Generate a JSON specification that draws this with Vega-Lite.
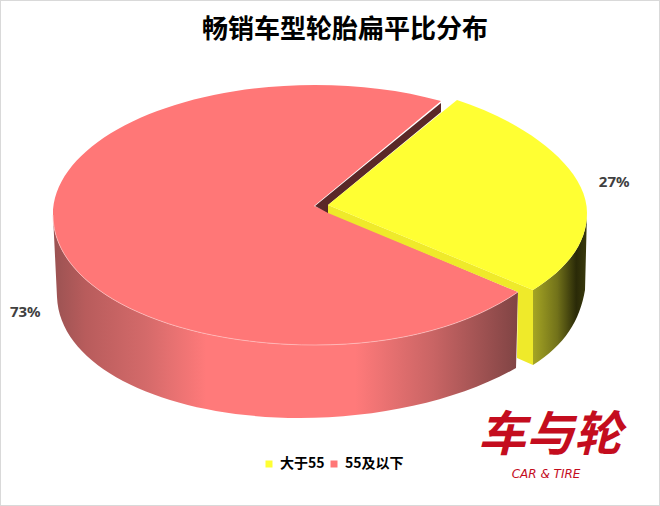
{
  "$schema": "https://vega.github.io/schema/vega-lite/v6.json",
  "width": 660,
  "height": 506,
  "padding": 0,
  "autosize": {"type": "none"},
  "background": "white",
  "view": {"stroke": "#d9d9d9", "strokeWidth": 2},
  "config": {"font": "Noto Sans CJK SC"},
  "title": {"text": "畅销车型轮胎扁平比分布", "font": "Noto Sans CJK SC", "fontSize": 26, "fontWeight": "bold", "color": "#000000", "anchor": "middle", "dx": 15, "offset": -43},
  "data": {"values": [
    {"类别": "大于55", "占比": 0.27},
    {"类别": "55及以下", "占比": 0.73}
  ]},
  "layer": [
    {
      "transform": [{"filter": "datum['类别'] === '55及以下'"}],
      "mark": {"type": "point", "filled": true, "opacity": 1, "size": 4, "strokeWidth": 0,
        "shape": "M -277 -38 L -273 44 C -270 117 -160 165 -30 165 C 50 165 130 147 186 115 L 188 39 C 140 72 70 92 -15 92 C -160 92 -277 37 -277 -38 Z",
        "color": {"gradient": "linear", "x1": 0, "x2": 1, "y1": 0, "y2": 0, "stops": [
          {"offset": 0, "color": "#9a5252"},
          {"offset": 0.07, "color": "#b85c5c"},
          {"offset": 0.2, "color": "#d46a6a"},
          {"offset": 0.33, "color": "#ff7a7a"},
          {"offset": 0.65, "color": "#ff7a7a"},
          {"offset": 0.82, "color": "#c86464"},
          {"offset": 1, "color": "#804444"}
        ]}
      },
      "encoding": {}
    },
    {
      "transform": [{"filter": "datum['类别'] === '55及以下'"}],
      "mark": {"type": "point", "filled": true, "opacity": 1, "size": 4, "strokeWidth": 0,
        "shape": "M 111 -152 C 70 -163 30 -168 -15 -168 C -160 -168 -277 -110 -277 -38 C -277 37 -160 92 -15 92 C 70 92 140 72 188 39 L -16 -47 Z"
      },
      "encoding": {
        "color": {"field": "类别", "type": "nominal",
          "scale": {"domain": ["大于55", "55及以下"], "range": ["#FFFF33", "#FF7777"]},
          "legend": {"title": null, "orient": "none", "legendX": 262, "legendY": 457, "direction": "horizontal", "symbolType": "square", "symbolSize": 49, "symbolStrokeWidth": 0, "labelFont": "Noto Sans CJK SC", "labelFontSize": 14, "labelFontWeight": "bold", "labelColor": "#000000", "columnPadding": 2, "labelOffset": 4}
        }
      }
    },
    {
      "transform": [{"filter": "datum['类别'] === '55及以下'"}],
      "mark": {"type": "point", "filled": false, "opacity": 0.8, "size": 4, "stroke": "#ffc8c8", "strokeWidth": 0.8,
        "shape": "M -277 -38 C -277 37 -160 92 -15 92 C 70 92 140 72 188 39"
      },
      "encoding": {}
    },
    {
      "transform": [{"filter": "datum['类别'] === '55及以下'"}],
      "mark": {"type": "point", "filled": true, "opacity": 1, "size": 4, "strokeWidth": 0, "color": "#5a2828",
        "shape": "M 111 -150 L 111 -141 L -2 -48 L -2 -40 L -15 -47 Z"
      },
      "encoding": {}
    },
    {
      "transform": [{"filter": "datum['类别'] === '大于55'"}],
      "mark": {"type": "point", "filled": true, "opacity": 1, "size": 4, "strokeWidth": 0,
        "shape": "M 203 37 C 235 17 257 -8 257 -40 L 255 37 C 250 67 235 92 203 112 Z",
        "color": {"gradient": "linear", "x1": 0, "x2": 1, "y1": 0, "y2": 0, "stops": [
          {"offset": 0, "color": "#a5a524"},
          {"offset": 0.45, "color": "#72721a"},
          {"offset": 0.8, "color": "#2a2a08"},
          {"offset": 1, "color": "#3a3a0c"}
        ]}
      },
      "encoding": {}
    },
    {
      "transform": [{"filter": "datum['类别'] === '大于55'"}],
      "mark": {"type": "point", "filled": true, "opacity": 1, "size": 4, "strokeWidth": 0, "color": "#EFEA2A",
        "shape": "M -2 -48 L 203 37 L 203 112 L 187 105 L 188 39 L -2 -40 Z"
      },
      "encoding": {}
    },
    {
      "transform": [{"filter": "datum['类别'] === '大于55'"}],
      "mark": {"type": "point", "filled": true, "opacity": 1, "size": 4, "strokeWidth": 0,
        "shape": "M 127 -153 C 190 -133 257 -88 257 -40 C 257 -8 235 17 203 37 L -2 -48 Z"
      },
      "encoding": {
        "color": {"field": "类别", "type": "nominal",
          "scale": {"domain": ["大于55", "55及以下"], "range": ["#FFFF33", "#FF7777"]}
        }
      }
    },
    {
      "mark": {"type": "text", "font": "Noto Sans", "fontSize": 15, "fontWeight": "bold", "color": "#404040", "dy": -8},
      "encoding": {
        "theta": {"field": "占比", "type": "quantitative", "stack": true, "scale": {"range": [0.506, 6.789]}},
        "radius": {"field": "占比", "type": "quantitative", "scale": {"domain": [0.27, 0.73], "range": [291, 312], "zero": false}},
        "text": {"field": "占比", "type": "quantitative", "format": ".0%"}
      }
    },
    {
      "data": {"values": [{"标志": "车与轮"}]},
      "mark": {"type": "text", "font": "Noto Sans CJK SC", "fontSize": 48, "fontWeight": "bold", "fontStyle": "italic", "color": "#C40D1E", "dx": 220, "dy": 184},
      "encoding": {"text": {"field": "标志", "type": "nominal"}}
    },
    {
      "data": {"values": [{"标志": "CAR & TIRE"}]},
      "mark": {"type": "text", "font": "DejaVu Sans", "fontSize": 12, "fontStyle": "italic", "color": "#C40D1E", "dx": 216, "dy": 221},
      "encoding": {"text": {"field": "标志", "type": "nominal"}}
    }
  ]
}
